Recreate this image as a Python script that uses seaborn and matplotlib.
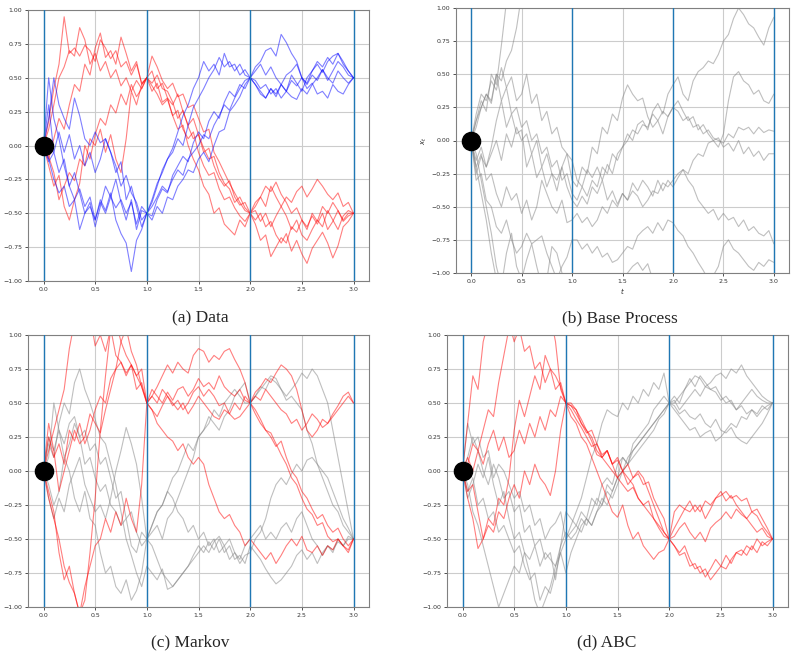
import numpy as np
import pandas as pd
import matplotlib
matplotlib.use("Agg")
import matplotlib.pyplot as plt
import seaborn as sns

# time grid of the sampled paths (step 0.05 from 0 to 3)
T = np.round(np.arange(61) * 0.05, 2)
STAGE_TIMES = [0, 1, 2, 3]
X_TICKS = [0.0, 0.5, 1.0, 1.5, 2.0, 2.5, 3.0]
Y_TICKS = [-1.0, -0.75, -0.5, -0.25, 0.0, 0.25, 0.5, 0.75, 1.0]
START = (0.0, 0.0)
CAPTIONS = ["(a) Data", "(b) Base Process", "(c) Markov", "(d) ABC"]

# (a) Data
data_red = [
    [0, 0.18, 0.42, 0.6, 0.95, 0.68, 0.72, 0.66, 0.74, 0.7, 0.62, 0.78, 0.72, 0.64, 0.7, 0.58, 0.62, 0.52, 0.6, 0.46, 0.5,
     0.66, 0.58, 0.48, 0.42, 0.46, 0.36, 0.38, 0.28, 0.3, 0.2, 0.1, 0.12, -0.05, -0.12, -0.2, -0.28, -0.35, -0.42, -0.48, -0.5,
     -0.42, -0.38, -0.3, -0.34, -0.27, -0.36, -0.42, -0.5, -0.46, -0.55, -0.6, -0.52, -0.58, -0.5, -0.62, -0.56, -0.48, -0.55, -0.5, -0.5],
    [0, 0.12, 0.3, 0.5, 0.58, 0.7, 0.66, 0.87, 0.78, 0.6, 0.68, 0.55, 0.62, 0.5, 0.56, 0.44, 0.5, 0.4, 0.48, 0.42, 0.5,
     0.44, 0.38, 0.3, 0.34, 0.22, 0.12, 0.15, 0.0, -0.1, -0.18, -0.3, -0.36, -0.5, -0.46, -0.58, -0.62, -0.66, -0.55, -0.6, -0.5,
     -0.58, -0.7, -0.66, -0.82, -0.75, -0.68, -0.72, -0.6, -0.64, -0.55, -0.62, -0.5, -0.56, -0.45, -0.5, -0.42, -0.48, -0.56, -0.52, -0.5],
    [0, -0.1, 0.05, 0.2, 0.12, 0.3, 0.45, 0.4, 0.6, 0.52, 0.72, 0.83, 0.65, 0.7, 0.6, 0.8, 0.68, 0.55, 0.62, 0.45, 0.5,
     0.55, 0.42, 0.46, 0.35, 0.3, 0.38, 0.25, 0.15, 0.2, 0.08, -0.02, -0.1, -0.08, -0.2, -0.28, -0.32, -0.42, -0.38, -0.46, -0.5,
     -0.48, -0.56, -0.5, -0.6, -0.52, -0.45, -0.38, -0.42, -0.34, -0.3, -0.38, -0.32, -0.25, -0.3, -0.36, -0.4, -0.35, -0.45, -0.42, -0.5],
    [0, -0.15, -0.3, -0.22, -0.45, -0.55, -0.4, -0.28, 0.0, -0.1, 0.08, 0.2, 0.15, 0.3, 0.24, 0.38, 0.3, 0.45, 0.36, 0.42, 0.5,
     0.4, 0.46, 0.32, 0.35, 0.22, 0.26, 0.12, 0.05, 0.1, -0.05, -0.15, -0.22, -0.2, -0.32, -0.4, -0.38, -0.46, -0.52, -0.56, -0.5,
     -0.55, -0.5, -0.6, -0.56, -0.66, -0.72, -0.65, -0.78, -0.7, -0.8, -0.87, -0.76, -0.7, -0.64, -0.72, -0.83, -0.74, -0.6, -0.56, -0.5],
    [0, -0.08, -0.2, -0.4, -0.3, -0.2, -0.26, -0.1, -0.15, 0.05, 0.0, 0.12, -0.05, 0.08, -0.1, -0.2, 0.05, 0.4, 0.3, 0.45, 0.5,
     0.46, 0.52, 0.42, 0.4, 0.32, 0.2, 0.26, 0.14, 0.05, 0.08, -0.05, -0.02, -0.15, -0.24, -0.3, -0.26, -0.38, -0.44, -0.42, -0.5,
     -0.45, -0.38, -0.45, -0.3, -0.38, -0.45, -0.52, -0.62, -0.55, -0.66, -0.7, -0.62, -0.55, -0.6, -0.48, -0.55, -0.62, -0.52, -0.48, -0.5],
]
data_blue = [
    [0, 0.5, 0.2, 0.05, -0.15, -0.3, -0.4, -0.32, -0.45, -0.38, -0.55, -0.42, -0.5, -0.38, -0.46, -0.4, -0.5, -0.42, -0.58, -0.45, -0.5,
     -0.42, -0.3, -0.18, -0.1, -0.02, 0.1, 0.22, 0.3, 0.42, 0.5, 0.62, 0.55, 0.6, 0.52, 0.68, 0.58, 0.6, 0.52, 0.56, 0.5,
     0.58, 0.62, 0.7, 0.72, 0.66, 0.82, 0.76, 0.68, 0.62, 0.5, 0.45, 0.52, 0.48, 0.56, 0.5, 0.46, 0.55, 0.5, 0.46, 0.5],
    [0, 0.2, 0.5, 0.3, 0.2, 0.12, 0.35, 0.22, 0.05, 0.0, 0.1, 0.02, 0.05, -0.05, -0.2, -0.12, -0.4, -0.3, -0.45, -0.6, -0.5,
     -0.45, -0.38, -0.3, -0.34, -0.25, -0.18, -0.22, -0.1, -0.05, 0.0, 0.08, 0.05, 0.15, 0.22, 0.3, 0.26, 0.35, 0.42, 0.48, 0.5,
     0.45, 0.38, 0.35, 0.42, 0.36, 0.45, 0.4, 0.52, 0.46, 0.4, 0.5, 0.55, 0.6, 0.54, 0.62, 0.66, 0.68, 0.6, 0.55, 0.5],
    [0, -0.1, -0.25, -0.35, -0.3, -0.45, -0.4, -0.62, -0.5, -0.45, -0.55, -0.4, -0.48, -0.35, -0.55, -0.65, -0.72, -0.93, -0.7, -0.62, -0.5,
     -0.52, -0.4, -0.32, -0.35, -0.22, -0.15, -0.08, -0.12, 0.02, 0.1, 0.05, 0.18, 0.25, 0.2, 0.32, 0.4, 0.36, 0.45, 0.42, 0.5,
     0.48, 0.42, 0.45, 0.38, 0.42, 0.35, 0.4, 0.36, 0.34, 0.42, 0.38, 0.45, 0.5, 0.56, 0.48, 0.55, 0.62, 0.58, 0.52, 0.5],
    [0, -0.12, -0.05, 0.1, -0.05, 0.08, -0.1, 0.0, -0.15, -0.05, -0.2, -0.1, 0.05, -0.05, -0.15, -0.3, -0.22, -0.35, -0.42, -0.55, -0.5,
     -0.55, -0.45, -0.5, -0.38, -0.4, -0.3, -0.25, -0.18, -0.2, -0.1, -0.05, -0.12, 0.0, 0.1, 0.12, 0.25, 0.3, 0.36, 0.45, 0.5,
     0.45, 0.4, 0.35, 0.42, 0.38, 0.45, 0.4, 0.48, 0.44, 0.5, 0.42, 0.46, 0.38, 0.4, 0.35, 0.45, 0.4, 0.38, 0.45, 0.5],
    [0, 0.3, -0.05, -0.2, -0.1, -0.3, -0.2, -0.35, -0.5, -0.42, -0.6, -0.45, -0.3, -0.38, -0.25, -0.42, -0.55, -0.4, -0.62, -0.48, -0.5,
     -0.4, -0.28, -0.2, -0.1, -0.05, 0.05, 0.0, 0.15, 0.28, 0.35, 0.42, 0.5, 0.56, 0.65, 0.58, 0.62, 0.55, 0.6, 0.52, 0.5,
     0.55, 0.6, 0.52, 0.58, 0.5, 0.45, 0.52, 0.55, 0.6, 0.5, 0.46, 0.55, 0.62, 0.58, 0.65, 0.6, 0.68, 0.62, 0.55, 0.5],
]

# (b) Base Process
base_gray = [
    [0, 0.15, 0.3, 0.22, 0.5, 0.42, 0.72, 1.05, 1.2, 1.35, 1.3, 1.45, 1.4, 1.55, 1.5, 1.6, 1.55, 1.7, 1.65, 1.6, 1.7,
     1.75, 1.7, 1.8, 1.75, 1.85, 1.8, 1.9, 1.85, 1.95, 1.9, 2.0, 1.95, 2.05, 2.0, 1.95, 2.05, 2.1, 2.0, 2.05, 2.1,
     2.15, 2.1, 2.2, 2.15, 2.1, 2.2, 2.25, 2.2, 2.3, 2.25, 2.2, 2.3, 2.35, 2.3, 2.25, 2.35, 2.4, 2.3, 2.35, 2.4],
    [0, 0.1, 0.25, 0.35, 0.3, 0.5, 0.45, 0.6, 0.68, 0.85, 1.1, 1.25, 1.3, 1.2, 1.35, 1.3, 1.4, 1.35, 1.45, 1.4, 1.5,
     1.55, 1.5, 1.6, 1.55, 1.5, 1.6, 1.65, 1.6, 1.7, 1.65, 1.6, 1.7, 1.75, 1.7, 1.65, 1.75, 1.8, 1.7, 1.75, 1.8,
     1.85, 1.8, 1.9, 1.85, 1.8, 1.9, 1.95, 1.9, 2.0, 1.95, 1.9, 2.0, 2.05, 2.0, 1.95, 2.05, 2.1, 2.0, 2.05, 2.1],
    [0, 0.2, 0.35, 0.3, 0.45, 0.38, 0.55, 0.4, 0.48, 0.3, 0.35, 0.5, 0.28, 0.35, 0.15, 0.22, 0.05, 0.1, -0.05, -0.1, -0.3,
     -0.35, -0.2, -0.25, -0.05, -0.1, 0.1, 0.05, 0.2, 0.15, 0.32, 0.42, 0.35, 0.3, 0.32, 0.18, 0.1, 0.15, 0.05, 0.18, 0.25,
     0.3, 0.22, 0.15, 0.18, 0.08, 0.12, 0.05, 0.0, 0.02, -0.05, -0.02, -0.08, 0.0, -0.1, -0.05, -0.12, -0.08, -0.15, -0.1, -0.1],
    [0, 0.15, 0.25, 0.35, 0.28, 0.5, 0.3, 0.4, 0.2, 0.25, 0.1, 0.15, 0.0, 0.05, -0.1, -0.05, -0.2, -0.15, -0.3, -0.25, -0.4,
     -0.45, -0.35, -0.42, -0.3, -0.35, -0.2, -0.25, -0.1, -0.15, -0.05, 0.05, 0.0, 0.12, 0.15, 0.08, 0.22, 0.28, 0.2, 0.35, 0.42,
     0.48, 0.35, 0.3, 0.45, 0.52, 0.55, 0.6, 0.58, 0.65, 0.75, 0.8, 0.92, 1.0, 0.95, 0.88, 0.85, 0.78, 0.72, 0.85, 0.93],
    [0, -0.15, -0.05, -0.2, -0.1, 0.0, -0.15, 0.05, -0.05, 0.1, 0.0, 0.05, -0.1, 0.0, -0.2, -0.1, -0.25, -0.3, -0.2, -0.35, -0.45,
     -0.5, -0.42, -0.48, -0.35, -0.4, -0.3, -0.45, -0.38, -0.48, -0.4, -0.45, -0.32, -0.38, -0.3, -0.35, -0.42, -0.3, -0.38, -0.3, -0.35,
     -0.28, -0.22, -0.25, -0.15, -0.1, -0.12, -0.02, 0.0, -0.05, 0.05, 0.3, 0.48, 0.52, 0.45, 0.42, 0.35, 0.38, 0.3, 0.28, 0.35],
    [0, -0.25, -0.12, -0.2, -0.05, 0.15, 0.3, 0.1, 0.2, 0.05, 0.08, -0.2, -0.1, -0.28, -0.2, -0.35, -0.25, -0.38, -0.2, -0.1, -0.15,
     -0.3, -0.35, -0.22, -0.28, -0.2, -0.3, -0.18, -0.25, -0.1, -0.05, 0.0, 0.08, 0.05, 0.12, 0.1, 0.2, 0.15, 0.22, 0.18, 0.25,
     0.22, 0.15, 0.18, 0.1, 0.12, 0.05, 0.08, 0.02, 0.0, -0.02, 0.05, 0.02, 0.1, 0.08, 0.1, 0.05, 0.1, 0.06, 0.08, 0.07],
    [0, -0.2, -0.1, -0.3, -0.25, -0.4, -0.5, -0.35, -0.45, -0.4, -0.55, -0.45, -0.6, -0.5, -0.3, -0.4, -0.5, -0.55, -0.45, -0.62, -0.6,
     -0.55, -0.62, -0.58, -0.65, -0.6, -0.5, -0.55, -0.45, -0.5, -0.4, -0.45, -0.38, -0.42, -0.5, -0.45, -0.38, -0.4, -0.32, -0.35, -0.3,
     -0.25, -0.22, -0.3, -0.35, -0.45, -0.5, -0.55, -0.52, -0.6, -0.55, -0.6, -0.58, -0.65, -0.6, -0.68, -0.65, -0.7, -0.72, -0.68, -0.78],
    [0, -0.3, -0.25, -0.45, -0.5, -0.65, -0.7, -0.6, -0.75, -0.85, -0.8, -0.7, -0.78, -0.75, -0.72, -0.85, -0.95, -1.05, -0.95, -0.88, -0.75,
     -0.75, -0.82, -0.78, -0.85, -0.8, -0.88, -0.85, -0.92, -0.9, -0.85, -0.8, -0.82, -0.72, -0.68, -0.65, -0.7, -0.62, -0.68, -0.6, -0.62,
     -0.68, -0.72, -0.8, -0.85, -0.92, -0.98, -1.05, -1.02, -0.95, -0.8, -0.75, -0.82, -0.85, -0.9, -0.95, -0.98, -0.92, -0.95, -0.9, -0.92],
    [0, -0.2, -0.4, -0.6, -0.85, -1.05, -1.2, -1.1, -1.3, -1.25, -1.4, -1.3, -1.35, -1.2, -1.25, -1.15, -1.3, -1.2, -1.1, -1.15, -1.2,
     -1.25, -1.15, -1.2, -1.1, -1.15, -1.05, -1.1, -1.02, -1.05, -1.08, -1.0, -0.95, -0.92, -0.98, -0.93, -1.05, -1.1, -1.2, -1.15, -1.25,
     -1.3, -1.2, -1.35, -1.3, -1.4, -1.35, -1.5, -1.4, -1.45, -1.55, -1.5, -1.4, -1.45, -1.5, -1.55, -1.6, -1.5, -1.55, -1.6, -1.65],
    [0, -0.1, -0.3, -0.5, -0.7, -0.95, -1.1, -0.85, -0.7, -0.95, -1.05, -0.9, -0.78, -0.95, -1.1, -1.05, -0.8, -0.85, -1.0, -1.1, -1.2,
     -1.25, -1.3, -1.35, -1.3, -1.4, -1.45, -1.4, -1.5, -1.55, -1.5, -1.6, -1.55, -1.65, -1.6, -1.7, -1.65, -1.75, -1.7, -1.8, -1.75,
     -1.8, -1.85, -1.8, -1.9, -1.85, -1.95, -1.9, -2.0, -1.95, -2.0, -2.05, -2.0, -2.1, -2.05, -2.1, -2.15, -2.1, -2.2, -2.15, -2.2],
]

# (c) Markov
markov_gray = [
    [0, 0.2, 0.1, 0.35, 0.5, 0.42, 0.65, 0.75, 0.6, 0.5, 0.38, 0.25, 0.2, 0.05, -0.1, -0.3, -0.5, -0.62, -0.75, -0.85, -0.7,
     -0.75, -0.8, -0.72, -0.87, -0.85, -0.8, -0.75, -0.7, -0.62, -0.55, -0.6, -0.52, -0.58, -0.5, -0.6, -0.55, -0.65, -0.62, -0.68, -0.55,
     -0.6, -0.65, -0.72, -0.78, -0.83, -0.8, -0.75, -0.7, -0.62, -0.58, -0.65, -0.6, -0.68, -0.6, -0.55, -0.58, -0.52, -0.55, -0.5, -0.5],
    [0, -0.2, -0.35, -0.2, -0.3, -0.1, 0.0, 0.1, -0.1, -0.2, -0.3, -0.25, -0.35, -0.2, 0.0, 0.15, 0.32, 0.2, 0.05, -0.2, -0.5,
     -0.45, -0.4, -0.5, -0.35, -0.3, -0.2, -0.1, 0.0, 0.1, 0.25, 0.3, 0.4, 0.35, 0.3, 0.4, 0.45, 0.55, 0.6, 0.65, 0.5,
     0.55, 0.62, 0.6, 0.68, 0.65, 0.6, 0.52, 0.55, 0.5, 0.45, 0.3, 0.2, 0.05, 0.0, -0.05, -0.15, -0.25, -0.35, -0.42, -0.5],
    [0, 0.25, 0.15, 0.3, 0.1, 0.2, 0.35, 0.25, 0.05, 0.1, -0.05, -0.15, -0.1, -0.25, -0.3, -0.4, -0.35, -0.55, -0.6, -0.45, -0.5,
     -0.4, -0.3, -0.25, -0.15, -0.2, -0.3, -0.35, -0.45, -0.4, -0.5, -0.45, -0.55, -0.5, -0.6, -0.55, -0.65, -0.6, -0.68, -0.62, -0.6,
     -0.5, -0.45, -0.35, -0.2, -0.1, -0.05, -0.1, -0.02, 0.05, 0.0, 0.08, 0.1, 0.05, -0.05, -0.15, -0.25, -0.3, -0.4, -0.45, -0.5],
    [0, -0.1, -0.25, -0.15, 0.1, 0.0, -0.2, -0.3, -0.15, -0.35, -0.4, -0.6, -0.75, -0.7, -0.85, -0.9, -0.8, -0.95, -0.88, -0.75, -0.5,
     -0.55, -0.65, -0.75, -0.8, -0.85, -0.8, -0.75, -0.7, -0.65, -0.6, -0.55, -0.6, -0.52, -0.48, -0.55, -0.5, -0.6, -0.65, -0.55, -0.5,
     -0.45, -0.4, -0.5, -0.45, -0.5, -0.42, -0.38, -0.45, -0.35, -0.3, -0.4, -0.5, -0.55, -0.62, -0.55, -0.6, -0.5, -0.55, -0.48, -0.5],
    [0, 0.1, 0.5, 0.3, 0.2, 0.35, 0.4, 0.25, 0.3, 0.15, 0.2, 0.05, 0.1, -0.05, -0.2, -0.15, -0.35, -0.3, -0.45, -0.55, -0.5,
     -0.4, -0.3, -0.25, -0.15, -0.05, 0.0, 0.1, 0.2, 0.15, 0.25, 0.3, 0.35, 0.45, 0.4, 0.5, 0.55, 0.6, 0.55, 0.5, 0.5,
     0.55, 0.6, 0.65, 0.7, 0.68, 0.6, 0.55, 0.6, 0.65, 0.72, 0.68, 0.75, 0.7, 0.6, 0.5, 0.3, 0.1, -0.1, -0.3, -0.5],
]
markov_red = [
    [0, 0.15, 0.3, 0.45, 0.6, 0.9, 1.1, 1.2, 1.05, 1.15, 0.92, 1.0, 0.88, 1.05, 0.85, 0.8, 0.72, 0.78, 0.6, 0.65, 0.5,
     0.55, 0.62, 0.7, 0.78, 0.72, 0.8, 0.75, 0.72, 0.85, 0.9, 0.88, 0.8, 0.85, 0.82, 0.88, 0.9, 0.82, 0.75, 0.65, 0.5,
     0.42, 0.35, 0.3, 0.25, 0.18, 0.22, 0.1, 0.0, -0.05, -0.15, -0.2, -0.28, -0.35, -0.32, -0.4, -0.45, -0.42, -0.5, -0.55, -0.5],
    [0, -0.2, -0.35, -0.5, -0.7, -0.82, -0.9, -1.05, -0.95, -0.6, -0.2, 0.3, 0.7, 1.05, 1.1, 0.95, 0.85, 0.78, 0.7, 0.62, 0.5,
     0.6, 0.55, 0.5, 0.58, 0.52, 0.6, 0.62, 0.55, 0.6, 0.68, 0.62, 0.65, 0.6, 0.7, 0.62, 0.58, 0.55, 0.6, 0.52, 0.5,
     0.58, 0.62, 0.68, 0.65, 0.72, 0.78, 0.75, 0.7, 0.6, 0.45, 0.3, 0.25, 0.3, 0.38, 0.35, 0.42, 0.48, 0.55, 0.58, 0.5],
    [0, -0.15, -0.3, -0.6, -0.8, -0.7, -0.9, -1.05, -0.85, -0.7, -0.55, -0.5, -0.35, -0.45, -0.3, -0.4, -0.2, -0.35, -0.45, -0.1, 0.5,
     0.45, 0.35, 0.3, 0.25, 0.22, 0.15, 0.2, 0.1, 0.05, 0.1, 0.05, -0.1, -0.2, -0.3, -0.35, -0.32, -0.4, -0.45, -0.55, -0.5,
     -0.55, -0.6, -0.65, -0.6, -0.68, -0.62, -0.55, -0.5, -0.55, -0.48, -0.58, -0.6, -0.55, -0.62, -0.55, -0.58, -0.5, -0.55, -0.6, -0.5],
    [0, 0.25, 0.1, 0.2, 0.05, 0.3, 0.22, 0.35, 0.2, 0.3, 0.45, 0.55, 0.5, 0.68, 0.75, 0.8, 0.7, 0.78, 0.7, 0.75, 0.5,
     0.55, 0.5, 0.6, 0.55, 0.48, 0.52, 0.45, 0.5, 0.58, 0.62, 0.55, 0.6, 0.55, 0.48, 0.5, 0.42, 0.38, 0.4, 0.45, 0.5,
     0.45, 0.38, 0.3, 0.28, 0.2, 0.12, 0.05, -0.05, -0.1, -0.2, -0.28, -0.32, -0.4, -0.38, -0.48, -0.52, -0.5, -0.55, -0.58, -0.5],
    [0, 0.35, 0.15, -0.15, 0.0, 0.15, 0.3, 0.2, 0.25, 0.42, 0.35, 0.28, 0.45, 0.6, 0.75, 0.95, 1.05, 0.88, 0.78, 0.62, 0.5,
     0.45, 0.4, 0.48, 0.55, 0.5, 0.45, 0.5, 0.42, 0.48, 0.55, 0.5, 0.45, 0.4, 0.38, 0.45, 0.42, 0.5, 0.45, 0.55, 0.5,
     0.55, 0.52, 0.6, 0.55, 0.5, 0.45, 0.42, 0.35, 0.38, 0.3, 0.35, 0.42, 0.38, 0.32, 0.35, 0.4, 0.45, 0.5, 0.55, 0.5],
]

# (d) ABC
abc_gray = [
    [0, 0.35, 0.2, 0.25, 0.1, 0.15, -0.05, 0.05, 0.0, -0.1, -0.2, -0.15, -0.3, -0.25, -0.4, -0.35, -0.5, -0.42, -0.38, -0.3, -0.5,
     -0.4, -0.3, -0.2, -0.05, 0.1, 0.2, 0.35, 0.45, 0.42, 0.4, 0.5, 0.45, 0.55, 0.5, 0.6, 0.55, 0.65, 0.6, 0.72, 0.5,
     0.55, 0.5, 0.6, 0.65, 0.7, 0.68, 0.62, 0.65, 0.7, 0.72, 0.68, 0.75, 0.72, 0.78, 0.7, 0.65, 0.6, 0.55, 0.52, 0.5],
    [0, -0.1, -0.3, -0.4, -0.55, -0.7, -0.85, -1.0, -0.9, -0.8, -0.7, -0.75, -0.6, -0.65, -0.55, -0.7, -0.6, -0.65, -0.7, -0.6, -0.75,
     -0.6, -0.5, -0.4, -0.35, -0.4, -0.3, -0.2, -0.25, -0.15, -0.05, 0.0, 0.1, 0.15, 0.2, 0.25, 0.3, 0.35, 0.4, 0.45, 0.5,
     0.45, 0.4, 0.35, 0.3, 0.32, 0.25, 0.28, 0.3, 0.22, 0.25, 0.3, 0.35, 0.32, 0.4, 0.38, 0.45, 0.42, 0.48, 0.45, 0.5],
    [0, -0.15, -0.05, -0.25, -0.2, -0.35, -0.3, -0.45, -0.4, -0.5, -0.6, -0.55, -0.7, -0.8, -0.75, -0.95, -0.85, -0.9, -0.75, -0.6, -0.5,
     -0.45, -0.4, -0.45, -0.35, -0.4, -0.3, -0.25, -0.15, -0.2, -0.1, 0.0, 0.05, 0.1, 0.15, 0.2, 0.25, 0.3, 0.38, 0.42, 0.5,
     0.48, 0.42, 0.45, 0.4, 0.38, 0.42, 0.35, 0.32, 0.38, 0.3, 0.28, 0.32, 0.25, 0.22, 0.2, 0.25, 0.3, 0.35, 0.42, 0.5],
    [0, 0.1, 0.25, 0.15, 0.0, -0.1, 0.05, -0.05, -0.2, -0.15, -0.3, -0.25, -0.45, -0.4, -0.55, -0.5, -0.65, -0.6, -0.8, -0.55, -0.3,
     -0.35, -0.4, -0.3, -0.35, -0.2, -0.25, -0.1, -0.05, -0.1, 0.05, 0.1, 0.05, 0.15, 0.2, 0.25, 0.3, 0.35, 0.4, 0.45, 0.5,
     0.52, 0.45, 0.5, 0.55, 0.6, 0.55, 0.62, 0.6, 0.58, 0.52, 0.55, 0.5, 0.45, 0.48, 0.42, 0.45, 0.4, 0.45, 0.48, 0.5],
    [0, -0.2, -0.1, 0.05, -0.05, 0.1, -0.1, -0.25, -0.15, -0.35, -0.5, -0.45, -0.6, -0.75, -0.95, -1.05, -0.95, -0.85, -0.7, -0.55, -0.45,
     -0.5, -0.45, -0.35, -0.4, -0.3, -0.2, -0.25, -0.1, -0.15, -0.05, 0.1, 0.05, 0.2, 0.25, 0.3, 0.35, 0.45, 0.5, 0.55, 0.5,
     0.5, 0.55, 0.6, 0.68, 0.62, 0.7, 0.65, 0.6, 0.62, 0.55, 0.5, 0.52, 0.45, 0.5, 0.55, 0.6, 0.55, 0.52, 0.5, 0.5],
]
abc_red = [
    [0, 0.35, 0.7, 0.6, 0.95, 1.1, 1.2, 1.15, 1.05, 1.1, 0.95, 1.05, 0.88, 0.92, 0.75, 0.8, 0.65, 0.75, 0.6, 0.65, 0.5,
     0.48, 0.42, 0.35, 0.28, 0.3, 0.2, 0.12, 0.15, 0.05, 0.08, 0.0, 0.05, -0.05, -0.02, -0.1, -0.08, -0.2, -0.28, -0.35, -0.5,
     -0.3, -0.25, -0.28, -0.22, -0.3, -0.25, -0.35, -0.28, -0.2, -0.18, -0.15, -0.2, -0.18, -0.22, -0.2, -0.3, -0.28, -0.35, -0.42, -0.5],
    [0, -0.2, -0.35, -0.57, -0.5, -0.35, -0.4, -0.2, -0.25, -0.05, 0.3, 0.52, 0.4, 0.55, 0.7, 0.6, 0.85, 0.75, 0.7, 0.62, 0.5,
     0.45, 0.38, 0.32, 0.25, 0.18, 0.2, 0.1, 0.05, 0.0, -0.05, -0.1, -0.15, -0.12, -0.2, -0.25, -0.3, -0.35, -0.4, -0.45, -0.5,
     -0.55, -0.62, -0.6, -0.7, -0.68, -0.75, -0.72, -0.8, -0.75, -0.7, -0.72, -0.65, -0.6, -0.62, -0.55, -0.58, -0.5, -0.55, -0.52, -0.5],
    [0, 0.1, 0.0, 0.15, 0.05, 0.2, 0.3, 0.15, 0.25, 0.1, 0.15, 0.3, 0.2, 0.35, 0.25, 0.4, 0.3, 0.45, 0.4, 0.55, 0.5,
     0.4, 0.35, 0.25, 0.2, 0.1, 0.0, -0.1, -0.2, -0.3, -0.34, -0.25, -0.4, -0.5, -0.45, -0.55, -0.6, -0.65, -0.6, -0.58, -0.5,
     -0.48, -0.42, -0.38, -0.45, -0.5, -0.45, -0.52, -0.42, -0.38, -0.35, -0.3, -0.35, -0.28, -0.32, -0.35, -0.3, -0.33, -0.4, -0.45, -0.5],
    [0, -0.15, -0.1, -0.3, -0.5, -0.4, -0.45, -0.3, -0.35, -0.2, -0.1, -0.2, 0.0, -0.1, 0.05, -0.05, -0.1, -0.18, 0.0, 0.3, 0.5,
     0.5, 0.45, 0.38, 0.3, 0.25, 0.15, 0.1, 0.15, 0.05, -0.05, 0.0, -0.1, -0.05, 0.0, -0.05, -0.15, -0.25, -0.35, -0.45, -0.5,
     -0.55, -0.6, -0.55, -0.65, -0.72, -0.7, -0.78, -0.72, -0.65, -0.7, -0.62, -0.68, -0.6, -0.58, -0.62, -0.55, -0.6, -0.52, -0.55, -0.5],
    [0, 0.05, 0.2, 0.15, 0.3, 0.45, 0.4, 0.65, 0.85, 1.05, 1.1, 1.2, 1.15, 1.05, 1.1, 1.0, 1.05, 1.15, 0.95, 0.6, 0.5,
     0.48, 0.45, 0.35, 0.3, 0.22, 0.12, 0.1, 0.15, 0.05, 0.1, 0.0, -0.05, -0.1, -0.2, -0.25, -0.22, -0.35, -0.42, -0.48, -0.5,
     -0.42, -0.35, -0.28, -0.3, -0.25, -0.3, -0.22, -0.25, -0.2, -0.15, -0.22, -0.18, -0.25, -0.3, -0.35, -0.4, -0.45, -0.42, -0.48, -0.5],
]


def to_long(paths):
    frames = []
    for k, p in enumerate(paths):
        assert len(p) == len(T), f"path {k} has {len(p)} points"
        frames.append(pd.DataFrame({"t": T, "x": p, "path": k}))
    return pd.concat(frames, ignore_index=True)


sns.set_style("whitegrid", {
    "axes.edgecolor": ".5",
    "grid.color": ".8",
    "xtick.bottom": True,
    "ytick.left": True,
})
plt.rcParams["font.family"] = ["DejaVu Sans"]
plt.rcParams["xtick.major.size"] = 2
plt.rcParams["ytick.major.size"] = 2
plt.rcParams["xtick.major.width"] = 0.6
plt.rcParams["ytick.major.width"] = 0.6

fig = plt.figure(figsize=(7.97, 6.57), dpi=100)
W, H = 797, 657
boxes = [(28, 10, 369, 281), (456, 8, 789, 273), (28, 335, 369, 607), (447, 335, 788, 607)]
axes = [fig.add_axes([l / W, 1 - b / H, (r - l) / W, (b - t) / H]) for (l, t, r, b) in boxes]

panels = [
    [(data_red, "red"), (data_blue, "blue")],
    [(base_gray, "gray")],
    [(markov_gray, "gray"), (markov_red, "red")],
    [(abc_gray, "gray"), (abc_red, "red")],
]

for ax, layers in zip(axes, panels):
    for paths, col in layers:
        sns.lineplot(data=to_long(paths), x="t", y="x", units="path", estimator=None,
                     color=col, alpha=0.5, lw=0.8, ax=ax, legend=False)
    for s in STAGE_TIMES:
        ax.axvline(s, color="tab:blue", lw=1.0, zorder=3)
    sns.scatterplot(x=[START[0]], y=[START[1]], s=170, color="black", edgecolor="black",
                    zorder=5, ax=ax, legend=False)
    ax.set_xlim(-0.15, 3.15)
    ax.set_ylim(-1.0, 1.0)
    ax.set_xticks(X_TICKS)
    ax.set_yticks(Y_TICKS)
    ax.tick_params(labelsize=4.5, pad=2, colors=".2")
    ax.set_xlabel("")
    ax.set_ylabel("")
    for sp in ax.spines.values():
        sp.set_linewidth(0.8)

axes[1].set_xlabel("$t$", fontsize=5, labelpad=2)
axes[1].set_ylabel("$x_t$", fontsize=5, labelpad=2)

cap_pos = [(200, 318), (620, 318), (190, 642), (607, 642)]
for (cx, cy), txt in zip(cap_pos, CAPTIONS):
    fig.text(cx / W, 1 - cy / H, txt, ha="center", va="center", fontsize=12.5,
             family=["Liberation Serif", "DejaVu Serif"])

fig.savefig("out.png", dpi=100)
